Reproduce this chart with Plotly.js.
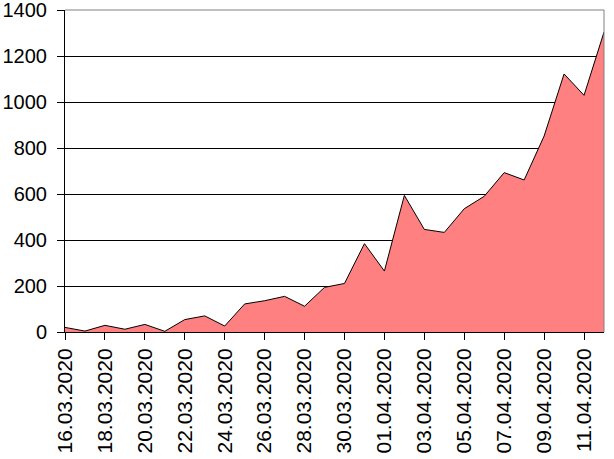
<!DOCTYPE html>
<html>
<head>
<meta charset="utf-8">
<script src="https://cdn.plot.ly/plotly-3.0.1.min.js"></script>
<style>html,body{margin:0;padding:0;background:#fff}#chart{width:614px;height:459px}</style>
</head>
<body>
<div id="chart"></div>
<script>
const dates = ["16.03.2020","17.03.2020","18.03.2020","19.03.2020","20.03.2020","21.03.2020","22.03.2020","23.03.2020","24.03.2020","25.03.2020","26.03.2020","27.03.2020","28.03.2020","29.03.2020","30.03.2020","31.03.2020","01.04.2020","02.04.2020","03.04.2020","04.04.2020","05.04.2020","06.04.2020","07.04.2020","08.04.2020","09.04.2020","10.04.2020","11.04.2020","12.04.2020"];
const values = [20, 4, 29, 12, 33, 3, 54, 70, 26, 122, 136, 155, 112, 194, 211, 384, 265, 594, 446, 433, 536, 590, 693, 661, 852, 1122, 1029, 1304];
const tickDates = dates.filter((d, i) => i % 2 === 0);

const trace = {
  x: dates, y: values, type: 'scatter', mode: 'lines',
  fill: 'tozeroy', fillcolor: '#FF8080',
  line: {color: '#000000', width: 1}, hoverinfo: 'none'
};
const layout = {
  width: 614, height: 459,
  margin: {l: 65, r: 10, t: 10, b: 127, pad: 0},
  paper_bgcolor: '#ffffff', plot_bgcolor: '#ffffff',
  font: {family: 'Liberation Sans, Arial, sans-serif', size: 20, color: '#000'},
  showlegend: false,
  xaxis: {
    type: 'category', range: [0, dates.length - 1],
    tickmode: 'array', tickvals: tickDates, ticktext: tickDates,
    tickangle: -90, ticks: 'outside', ticklen: 7, tickcolor: '#000', tickwidth: 1,
    showline: true, linecolor: '#000', linewidth: 1, showgrid: false, zeroline: false,
    tickfont: {size: 21}, ticklabeloverflow: 'allow'
  },
  yaxis: {
    range: [0, 1400], dtick: 200, tick0: 0,
    ticks: 'outside', ticklen: 7, tickcolor: '#000', tickwidth: 1,
    showline: true, linecolor: '#000', linewidth: 1,
    showgrid: true, gridcolor: '#000', gridwidth: 1, zeroline: false,
    tickfont: {size: 20}, ticklabelstandoff: 6, ticklabeloverflow: 'allow'
  },
  shapes: [
    {type: 'line', xref: 'paper', yref: 'paper', x0: 0, x1: 1, y0: 1, y1: 1, line: {color: '#808080', width: 1}, layer: 'above'},
    {type: 'line', xref: 'paper', yref: 'paper', x0: 1, x1: 1, y0: 0, y1: 1, line: {color: '#808080', width: 1}, layer: 'above'}
  ]
};
Plotly.newPlot('chart', [trace], layout, {staticPlot: true, displayModeBar: false});
</script>
</body>
</html>
